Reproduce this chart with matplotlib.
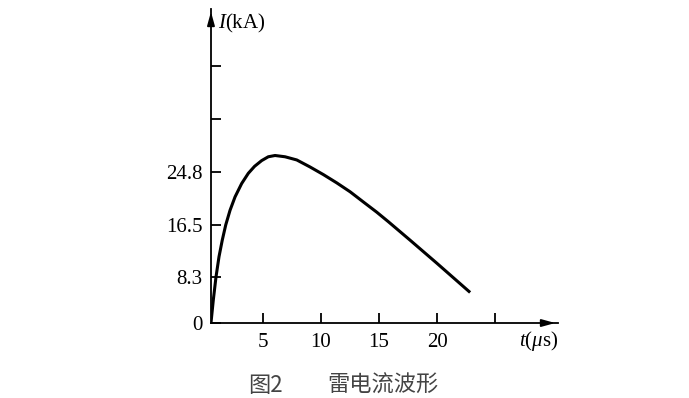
import matplotlib.pyplot as plt

plt.rcParams["font.family"] = ["Liberation Serif", "DejaVu Serif"]
plt.rcParams["mathtext.fontset"] = "custom"
plt.rcParams["mathtext.rm"] = "Liberation Serif"
plt.rcParams["mathtext.it"] = "Liberation Serif:italic"

# lightning current waveform
t_us = [0.55, 0.75, 0.98, 1.24, 1.52, 1.82, 2.19, 2.62, 3.19, 3.76, 4.3,
        4.91, 5.48, 6.06, 6.92, 7.93, 9.07, 10.22, 11.37, 12.52, 13.66,
        14.81, 15.81, 17.68, 19.97, 22.84]
i_ka = [1.1, 4.7, 8.3, 11.5, 14.1, 16.5, 18.8, 20.9, 23.0, 24.6, 25.7,
        26.6, 27.2, 27.4, 27.2, 26.7, 25.6, 24.4, 23.1, 21.7, 20.1,
        18.5, 17.0, 14.1, 10.5, 5.9]

x_ticks = [5, 10, 15, 20, 25]
x_labels = ["5", "10", "15", "20", ""]
y_ticks = [1.1, 8.3, 16.5, 24.8, 33.1, 41.4]
y_labels = ["0", "8.3", "16.5", "24.8", "", ""]

fig = plt.figure(figsize=(6.89, 3.98), dpi=100)
ax = fig.add_axes([0.3062, 0.1884, 0.8099 - 0.3062, 0.9774 - 0.1884])

ax.plot(t_us, i_ka, color="black", linewidth=2.2,
        solid_capstyle="butt", solid_joinstyle="round")

ax.set_xlim(0.55, 30.4)
ax.set_ylim(1.1, 50.4)

ax.spines["top"].set_visible(False)
ax.spines["right"].set_visible(False)
ax.spines["left"].set_linewidth(1.3)
ax.spines["bottom"].set_linewidth(1.3)

ax.set_xticks(x_ticks)
ax.set_xticklabels(x_labels)
ax.set_yticks(y_ticks)
ax.set_yticklabels(y_labels)
ax.tick_params(axis="both", direction="in", length=7, width=1.3, labelsize=15)
ax.tick_params(axis="x", pad=7)
ax.tick_params(axis="y", pad=6)

# axis arrows
ax.annotate("", xy=(1.0, 0), xytext=(0.96, 0), xycoords="axes fraction",
            arrowprops=dict(arrowstyle="-|>,head_length=0.8,head_width=0.22",
                            color="black", lw=1.3))
ax.annotate("", xy=(0, 1.0), xytext=(0, 0.96), xycoords="axes fraction",
            arrowprops=dict(arrowstyle="-|>,head_length=0.8,head_width=0.22",
                            color="black", lw=1.3))

fig.text(218 / 689, 1 - 23 / 398, r"$I$(kA)", fontsize=15, va="center", ha="left")
fig.text(558 / 689, 1 - 341 / 398, r"$t$($\mu$s)", fontsize=15, va="center", ha="right")

cap_font = ["Noto Sans CJK SC", "DejaVu Sans"]
fig.text(248 / 689, 1 - 385 / 398, "图2", fontsize=16, color="#444444",
         family=cap_font, va="center", ha="left")
fig.text(327 / 689, 1 - 385 / 398, "雷电流波形", fontsize=16, color="#444444",
         family=cap_font, va="center", ha="left")

fig.savefig("out.png", dpi=100)
